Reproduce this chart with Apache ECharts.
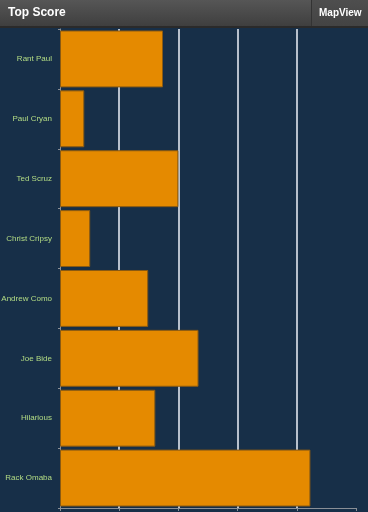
<!DOCTYPE html>
<html>
<head>
<meta charset="utf-8">
<script src="https://cdn.jsdelivr.net/npm/echarts@6/dist/echarts.min.js"></script>
<style>
html,body{margin:0;padding:0;background:#172f48;}
#c{width:368px;height:512px;}
</style>
</head>
<body>
<div id="c"></div>
<script>
var categories = ['Rant Paul','Paul Cryan','Ted Scruz','Christ Cripsy','Andrew Como','Joe Bide','Hilarious','Rack Omaba'];
var scores = [17.4, 4.1, 20, 5.1, 14.9, 23.4, 16.1, 42.3];
var titleText = 'Top Score';
var buttonText = 'MapView';

var chart = echarts.init(document.getElementById('c'), null, {renderer:'canvas'});
chart.setOption({
  backgroundColor: '#172f48',
  animation: false,
  grid: {left: 60, right: 12, top: 29, bottom: 4, containLabel: false, outerBoundsMode: 'none'},
  xAxis: {
    type: 'value', min: 0, max: 50, interval: 10,
    axisLabel: {show: false},
    axisLine: {show: true, lineStyle: {color: '#8a8f96', width: 1}},
    axisTick: {show: true, length: 3, lineStyle: {color: '#8a8f96'}},
    splitLine: {show: true, showMinLine: false, showMaxLine: false, lineStyle: {color: '#eef2f8', width: 1.5}}
  },
  yAxis: {
    type: 'category', data: categories, inverse: true,
    axisLine: {show: true, lineStyle: {color: '#8a8f96', width: 1}},
    axisTick: {show: true, length: 2, lineStyle: {color: '#8a8f96'}},
    axisLabel: {color: '#b3dc84', fontSize: 8, fontFamily: 'Liberation Sans, Arial, sans-serif', margin: 8}
  },
  series: [{
    type: 'bar', data: scores, barCategoryGap: '5%',
    itemStyle: {color: '#e58a00', borderColor: '#8a5a12', borderWidth: 1}
  }],
  graphic: [
    {type: 'rect', left: 0, top: 0, shape: {width: 368, height: 27},
     style: {fill: new echarts.graphic.LinearGradient(0,0,0,1,[{offset:0,color:'#565656'},{offset:1,color:'#3e3e3e'}])}, z: 10},
    {type: 'rect', left: 312, top: 0, shape: {width: 56, height: 27},
     style: {fill: new echarts.graphic.LinearGradient(0,0,0,1,[{offset:0,color:'#4e4e4e'},{offset:1,color:'#434343'}])}, z: 11},
    {type: 'rect', left: 311, top: 0, shape: {width: 1, height: 27}, style: {fill: '#333'}, z: 12},
    {type: 'rect', left: 0, top: 26, shape: {width: 368, height: 2}, style: {fill: '#2a2a2a'}, z: 12},
    {type: 'text', left: 8, top: 7, style: {text: titleText, fill: '#ffffff', font: 'bold 12px "Liberation Sans", Arial, sans-serif'}, z: 13},
    {type: 'text', left: 319, top: 8, style: {text: buttonText, fill: '#ffffff', font: 'bold 10px "Liberation Sans", Arial, sans-serif'}, z: 13}
  ]
});
</script>
</body>
</html>
